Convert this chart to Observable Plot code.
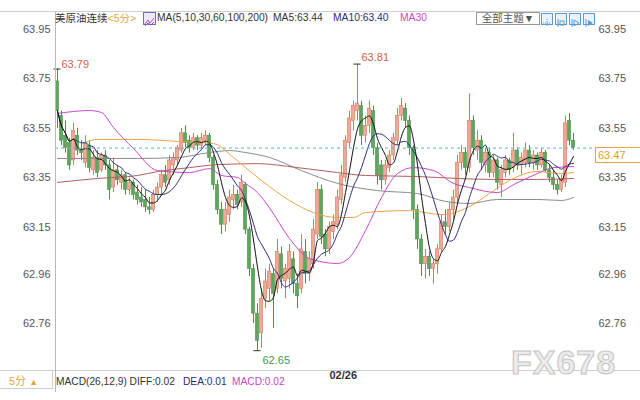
<!DOCTYPE html>
<html><head><meta charset="utf-8">
<script src="https://cdn.jsdelivr.net/npm/d3@7"></script>
<script src="https://cdn.jsdelivr.net/npm/@observablehq/plot@0.6"></script>
<style>
body{margin:0;background:#fff;}
#wrap{position:relative;width:640px;height:400px;overflow:hidden;font-family:"Liberation Sans","Noto Sans CJK SC",sans-serif;}
.ov{position:absolute;white-space:nowrap;line-height:12px;}
.ic{position:absolute;top:13px;width:10px;height:10px;border:1px solid #5b9bd5;background:#eaf3fb;}
</style></head><body><div id="wrap"></div>
<script>
// ---- data (5-minute candles) ----
const opens = [63.74,63.60,63.52,63.49,63.42,63.52,63.46,63.41,63.48,63.38,63.43,63.38,63.44,63.40,63.31,63.38,63.33,63.36,63.30,63.33,
63.29,63.27,63.26,63.23,63.22,63.28,63.31,63.36,63.34,63.40,63.42,63.46,63.53,63.50,63.47,63.51,63.48,63.50,63.52,63.43,
63.32,63.22,63.16,63.20,63.26,63.28,63.25,63.32,63.14,62.98,62.80,62.72,62.86,62.90,62.96,62.90,63.04,62.93,62.94,63.02,
62.92,62.90,63.05,62.96,63.00,63.12,63.30,63.12,63.06,63.13,63.16,63.26,63.35,63.49,63.58,63.62,63.64,63.52,63.56,63.62,
63.47,63.40,63.34,63.39,63.44,63.50,63.60,63.63,63.58,63.47,63.22,63.10,63.00,63.03,62.98,63.00,63.06,63.17,63.15,63.22,
63.27,63.41,63.45,63.39,63.58,63.46,63.50,63.40,63.45,63.37,63.42,63.32,63.37,63.42,63.39,63.46,63.40,63.41,63.46,63.41,
63.44,63.40,63.45,63.38,63.35,63.32,63.30,63.33,63.58,63.50];
const highs = [63.79,63.62,63.58,63.51,63.57,63.55,63.50,63.52,63.50,63.46,63.46,63.45,63.46,63.42,63.43,63.40,63.38,63.37,63.35,63.34,
63.32,63.31,63.30,63.27,63.30,63.33,63.38,63.40,63.44,63.45,63.48,63.55,63.56,63.52,63.53,63.52,63.53,63.54,63.53,63.44,
63.34,63.25,63.25,63.30,63.32,63.30,63.36,63.33,63.15,63.00,62.84,62.90,62.98,63.00,62.98,63.10,63.07,63.00,63.08,63.05,
62.96,63.12,63.10,63.05,63.18,63.33,63.32,63.14,63.17,63.20,63.30,63.40,63.52,63.62,63.66,63.81,63.66,63.60,63.66,63.64,
63.49,63.42,63.42,63.46,63.53,63.63,63.67,63.65,63.60,63.48,63.24,63.12,63.06,63.05,63.02,63.08,63.20,63.22,63.25,63.30,
63.44,63.48,63.47,63.69,63.60,63.54,63.52,63.47,63.47,63.44,63.43,63.40,63.44,63.43,63.53,63.47,63.45,63.49,63.48,63.46,
63.45,63.47,63.46,63.40,63.38,63.34,63.36,63.60,63.61,63.53];
const lows = [63.55,63.48,63.45,63.38,63.40,63.44,63.42,63.39,63.37,63.36,63.35,63.37,63.38,63.26,63.29,63.32,63.30,63.28,63.28,63.26,
63.24,63.23,63.21,63.20,63.21,63.25,63.28,63.31,63.32,63.36,63.40,63.45,63.47,63.45,63.46,63.46,63.46,63.48,63.41,63.30,
63.20,63.12,63.13,63.17,63.22,63.22,63.23,63.12,62.95,62.76,62.65,62.66,62.82,62.85,62.74,62.88,62.90,62.86,62.90,62.88,
62.82,62.88,62.92,62.93,62.98,63.10,63.08,63.03,63.04,63.10,63.14,63.24,63.33,63.47,63.54,63.58,63.48,63.49,63.53,63.44,
63.32,63.30,63.32,63.37,63.42,63.48,63.58,63.55,63.44,63.18,63.06,62.95,62.94,62.95,62.92,62.96,63.05,63.12,63.13,63.18,
63.25,63.38,63.36,63.37,63.44,63.42,63.38,63.37,63.35,63.35,63.30,63.27,63.35,63.36,63.37,63.38,63.36,63.39,63.39,63.38,
63.38,63.39,63.37,63.33,63.30,63.28,63.29,63.31,63.48,63.46];
const closes = [63.62,63.50,63.47,63.40,63.54,63.46,63.45,63.49,63.39,63.43,63.37,63.44,63.40,63.30,63.38,63.34,63.36,63.30,63.33,63.28,
63.26,63.25,63.23,63.22,63.28,63.31,63.36,63.33,63.42,63.43,63.47,63.53,63.49,63.47,63.51,63.48,63.51,63.52,63.43,63.32,
63.22,63.16,63.22,63.27,63.28,63.24,63.33,63.14,62.98,62.80,62.69,62.86,62.93,62.97,62.88,63.05,62.94,62.98,63.05,62.92,
62.87,63.06,62.96,63.02,63.14,63.30,63.11,63.06,63.15,63.17,63.27,63.36,63.50,63.59,63.64,63.65,63.52,63.56,63.63,63.47,
63.36,63.34,63.40,63.44,63.51,63.60,63.64,63.58,63.47,63.22,63.10,63.00,63.03,62.98,63.00,63.06,63.17,63.15,63.22,63.27,
63.41,63.45,63.39,63.58,63.47,63.50,63.41,63.45,63.37,63.42,63.33,63.38,63.42,63.38,63.46,63.40,63.43,63.46,63.41,63.44,
63.40,63.45,63.38,63.35,63.32,63.30,63.34,63.57,63.50,63.47];

// long moving averages: [candle index, value]
const ma30 = [[0,63.610],[8,63.622],[11,63.614],[14,63.553],[19,63.468],[25,63.379],[33,63.371],[38,63.387],[41,63.359],[45,63.351],
[47,63.327],[50,63.290],[53,63.228],[58,63.104],[63,63.023],[70,63.003],[73,63.027],[77,63.136],[81,63.270],[85,63.367],[89,63.391],
[94,63.379],[99,63.327],[103,63.310],[110,63.290],[114,63.322],[120,63.367],[124,63.391],[129,63.395]];
const ma60 = [[7,63.493],[10,63.505],[20,63.505],[30,63.497],[39,63.488],[44,63.432],[47,63.391],[51,63.339],[58,63.258],[64,63.209],
[70,63.189],[74,63.189],[77,63.209],[88,63.217],[96,63.201],[103,63.233],[108,63.286],[113,63.339],[120,63.375],[126,63.367],[129,63.371]];
const ma100 = [[0,63.331],[10,63.347],[20,63.359],[25,63.375],[33,63.391],[40,63.403],[50,63.407],[60,63.391],[70,63.371],[77,63.359],
[90,63.355],[100,63.347],[110,63.343],[120,63.343],[129,63.347]];
const ma200 = [[0,63.428],[20,63.428],[30,63.432],[38,63.452],[43,63.460],[47,63.452],[53,63.432],[61,63.379],[70,63.327],[80,63.298],
[90,63.286],[97,63.254],[103,63.246],[110,63.262],[120,63.262],[126,63.258],[129,63.270]];

const yTicks = [63.95,63.75,63.55,63.35,63.15,62.96,62.76];
const extremes = [{i:0,v:63.79,kind:"high"},{i:75,v:63.81,kind:"high"},{i:50,v:62.65,kind:"low"}];
const dateTicks = [{i:68,label:"02/26"}];
const lastPrice = closes[closes.length-1];

const bars = closes.map((c,i)=>({i, o:opens[i], h:highs[i], l:lows[i], c}));
const upFill="#eeaa98", upStroke="#d9735f", dnFill="#5fa45f", dnStroke="#4a904a";

const chart = Plot.plot({
  width:640, height:400,
  marginLeft:55, marginRight:46, marginTop:10, marginBottom:30,
  style:{fontFamily:"Liberation Sans, sans-serif", fontSize:"11px", color:"#555", background:"transparent"},
  x:{type:"linear", domain:[-0.5,134.25], axis:null},
  y:{domain:[62.5698,64.0269], axis:null},
  marks:[
    Plot.ruleX(bars,{x:"i", y1:"l", y2:"h", stroke:d=>d.c>=d.o?upStroke:dnStroke, strokeWidth:1}),
    Plot.rect(bars,{x1:d=>d.i-0.38, x2:d=>d.i+0.38, y1:"o", y2:"c",
      fill:d=>d.c>=d.o?upFill:dnFill, stroke:d=>d.c>=d.o?upStroke:dnStroke, strokeWidth:0.6}),
    Plot.line(ma200,{x:d=>d[0], y:d=>d[1], stroke:"#8a8a8a", strokeWidth:1, curve:"monotone-x"}),
    Plot.line(ma100,{x:d=>d[0], y:d=>d[1], stroke:"#b0605c", strokeWidth:1, curve:"monotone-x"}),
    Plot.line(ma60,{x:d=>d[0], y:d=>d[1], stroke:"#e8a548", strokeWidth:1, curve:"monotone-x"}),
    Plot.line(ma30,{x:d=>d[0], y:d=>d[1], stroke:"#c848c8", strokeWidth:1, curve:"monotone-x"}),
    Plot.lineY(bars, Plot.windowY({k:10, anchor:"end"}, {x:"i", y:"c", stroke:"#2c2c7c", strokeWidth:1, curve:"monotone-x"})),
    Plot.lineY(bars, Plot.windowY({k:5, anchor:"end"}, {x:"i", y:"c", stroke:"#111", strokeWidth:1, curve:"monotone-x"})),
    Plot.ruleY([lastPrice],{stroke:"#5fb3d6", strokeDasharray:"3,3", strokeWidth:1}),
    Plot.ruleY(extremes,{y:"v", x1:d=>d.i-0.9, x2:d=>d.i+0.9, stroke:"#333", strokeWidth:1}),
    Plot.text(extremes,{x:"i", y:"v", text:d=>d.v.toFixed(2), textAnchor:"start",
      fill:d=>d.kind==="high"?"#d9604a":"#3f9a4f", fontSize:11}),
    Plot.axisY(yTicks,{anchor:"left", tickSize:0, tickPadding:5, tickFormat:d=>d.toFixed(2), fill:"#555", fontSize:11}),
    Plot.axisY(yTicks,{anchor:"right", tickSize:0, tickPadding:4, tickFormat:d=>d.toFixed(2), fill:"#555", fontSize:11}),
    Plot.text(dateTicks,{x:"i", text:"label", frameAnchor:"bottom", dy:8, textAnchor:"start", fill:"#333", fontWeight:"bold", fontSize:11})
  ]
});
const wrap = document.getElementById("wrap");
wrap.appendChild(chart);

// offsets for extreme labels
chart.querySelectorAll("text").forEach(t=>{
  const s=t.textContent;
  if(s==="63.79"){t.setAttribute("dx","4");t.setAttribute("dy","-5");}
  if(s==="63.81"){t.setAttribute("dx","4");t.setAttribute("dy","-7");}
  if(s==="62.65"){t.setAttribute("dx","5");t.setAttribute("dy","10");}
});

const ys = chart.scale("y");
function ov(html){ wrap.insertAdjacentHTML("beforeend", html); }
// frame lines
ov('<div style="position:absolute;left:0;top:11px;width:640px;height:1px;background:#cfcfcf"></div>');
ov('<div style="position:absolute;left:0;top:370px;width:640px;height:1px;background:#cfcfcf"></div>');
ov('<div style="position:absolute;left:55px;top:11px;width:1px;height:381px;background:#b8b8b8"></div>');
// header
ov('<div class="ov" style="left:55px;top:12px;font-size:10.5px;color:#333">美原油连续<span style="color:#e8a33c">&lt;5分&gt;</span></div>');
ov('<div style="position:absolute;left:143px;top:12px;width:11px;height:11px;border:1px solid #6d6dbf;background:#efe9fa"><svg width="11" height="11"><polyline points="1,8 4,4 6,7 10,2" fill="none" stroke="#d050a0" stroke-width="1"/><polyline points="1,10 4,7 7,9 10,6" fill="none" stroke="#5b6bd0" stroke-width="1"/></svg></div>');
ov('<div class="ov" style="left:157px;top:12px;font-size:10.3px;color:#333">MA(5,10,30,60,100,200)</div>');
ov('<div class="ov" style="left:273px;top:12px;font-size:10.3px;color:#333">MA5:63.44</div>');
ov('<div class="ov" style="left:333px;top:12px;font-size:10.3px;color:#2c2c7c">MA10:63.40</div>');
ov('<div class="ov" style="left:400px;top:12px;font-size:10.3px;color:#c848c8">MA30</div>');
ov('<div class="ov" style="left:476px;top:12px;width:62px;height:11px;border:1px solid #999;font-size:10.5px;color:#555;text-align:center;line-height:11px">全部主题▼</div>');
const glyphs=['<line x1="5" y1="1" x2="5" y2="9" stroke="#5b9bd5" stroke-dasharray="1,1"/><line x1="1" y1="5" x2="9" y2="5" stroke="#5b9bd5" stroke-dasharray="1,1"/>',
 '<line x1="2" y1="1" x2="2" y2="9" stroke="#5b9bd5"/><rect x="4" y="3" width="4" height="4" fill="none" stroke="#5b9bd5"/>',
 '<line x1="2" y1="1" x2="2" y2="9" stroke="#5b9bd5"/><polygon points="4,2 9,5 4,8" fill="none" stroke="#5b9bd5"/>',
 '<line x1="2" y1="1" x2="2" y2="9" stroke="#5b9bd5"/><polygon points="4,2 9,5 4,8" fill="#5b9bd5"/>'];
[541,555,569,583].forEach((x,k)=>ov('<div class="ic" style="left:'+x+'px"><svg width="10" height="10">'+glyphs[k]+'</svg></div>'));
// last price tag
const yl = ys.apply(lastPrice);
ov('<div class="ov" style="left:595px;top:'+(yl-0.5)+'px;width:42px;height:14px;border:1px solid #e3a54a;background:#fff;font-size:11px;color:#e39a35;line-height:14px;padding-left:2px">'+lastPrice.toFixed(2)+'</div>');
// footer
ov('<div style="position:absolute;left:0;top:371px;width:52px;height:17px;border-right:1px solid #cfcfcf;border-bottom:1px solid #cfcfcf"></div>');
ov('<div class="ov" style="left:9px;top:375px;font-size:11px;color:#e8a33c">5分 <span style="font-size:9px">▲</span></div>');
ov('<div class="ov" style="left:56px;top:376px;font-size:10.2px;color:#333">MACD(26,12,9) DIFF:0.02</div>');
ov('<div class="ov" style="left:183px;top:376px;font-size:10.2px;color:#2c2c7c">DEA:0.01</div>');
ov('<div class="ov" style="left:232px;top:376px;font-size:10.2px;color:#c848c8">MACD:0.02</div>');
// watermark
ov('<div style="position:absolute;left:511px;top:345px;font-family:Liberation Sans,sans-serif;font-size:34px;line-height:34px;font-weight:bold;color:#ececec;-webkit-text-stroke:1px #c4c4c4;letter-spacing:1px">FX678</div>');
</script>
</body></html>
